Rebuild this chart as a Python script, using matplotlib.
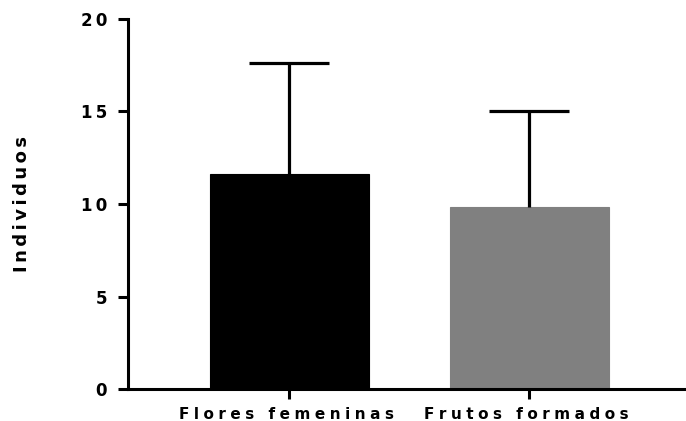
import matplotlib
matplotlib.use("Agg")
import matplotlib.pyplot as plt

categories = ["Flores femeninas", "Frutos formados"]
means = [11.6, 9.85]
upper_err = [6.0, 5.15]
bar_colors = ["#000000", "#808080"]
y_ticks = [0, 5, 10, 15, 20]
y_label = "Individuos"

plt.rcParams["font.family"] = ["DejaVu Sans"]
plt.rcParams["font.weight"] = "bold"

HAIR = "\u200a"


def spaced(text, n=1, trailing=False):
    # widen the tracking of a label by inserting hair spaces between letters
    out = (HAIR * n).join(text)
    return out + HAIR * n if trailing else out


fig = plt.figure(figsize=(6.86, 4.21), dpi=100)
ax = fig.add_axes([128 / 686, 1 - 389 / 421, 1 - 128 / 686, (389 - 19) / 421])

x = list(range(len(categories)))
ax.bar(x, means, width=0.6625, color=bar_colors, edgecolor=bar_colors,
       linewidth=0.8, zorder=2)
_, caps, _ = ax.errorbar(x, means, yerr=[[0] * len(means), upper_err],
                         fmt="none", ecolor="black", elinewidth=2.3,
                         capsize=28.5, capthick=2.3, zorder=3)
# one-sided error bars: keep only the upper caps
caps[0].set_visible(False)

ax.set_xlim(-0.671, 1.654)
ax.set_ylim(0, 20)
ax.set_yticks(y_ticks)
ax.set_yticklabels([spaced(str(t), 2) for t in y_ticks], fontsize=12,
                   fontweight="bold")
ax.set_xticks(x)
ax.set_xticklabels([spaced(c, 3, trailing=True) for c in categories],
                   fontsize=11, fontweight="bold")
ax.set_ylabel(spaced(y_label, 2), fontsize=13, fontweight="bold", labelpad=36)

for side in ("top", "right"):
    ax.spines[side].set_visible(False)
for side in ("left", "bottom"):
    ax.spines[side].set_linewidth(2.2)
ax.tick_params(axis="both", width=2.2, length=7, direction="out")
ax.tick_params(axis="y", pad=8)
ax.tick_params(axis="x", pad=6)

fig.savefig("out.png", dpi=100)
